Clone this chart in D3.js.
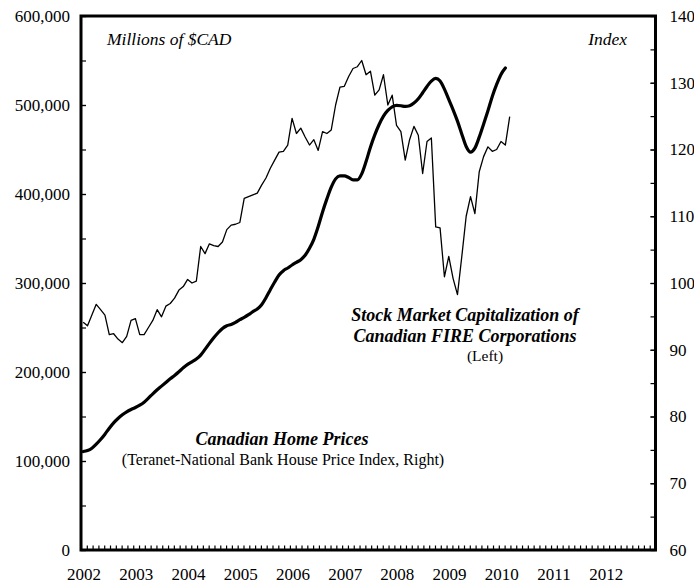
<!DOCTYPE html>
<html><head><meta charset="utf-8">
<script src="https://cdn.jsdelivr.net/npm/d3@7"></script>
<style>
body{margin:0;background:#fff}
svg{display:block}
text{font-family:"Liberation Serif","Times New Roman",serif;fill:#000}
</style>
</head><body>
<svg id="c" width="694" height="584"></svg>
<script>
// ---- data ----
const startYear = 2002; // monthly series starting January 2002
const yearLabels = [2002,2003,2004,2005,2006,2007,2008,2009,2010,2011,2012];
const leftTickValues = [0,100000,200000,300000,400000,500000,600000];
const rightTickValues = [60,70,80,90,100,110,120,130,140];
// Stock market capitalization of Canadian FIRE corporations, millions of CAD (left axis)
const stockCap = [
256000,252000,264000,276000,270000,264000,242000,243000,237000,233000,240000,258000,
260000,242000,242000,250000,258000,270000,262000,274000,277000,283000,292000,296000,
304000,300000,302000,341000,333000,344000,342000,341000,346000,360000,365000,366000,
368000,395000,397000,399000,401000,410000,418000,429000,438000,447000,448000,455000,
485000,468000,474000,464000,455000,461000,449000,470000,468000,472000,500000,520000,
521000,532000,541000,543000,550000,534000,538000,511000,517000,534000,500000,511000,
477000,470000,438000,461000,476000,466000,423000,459000,463000,363000,362000,307000,
330000,305000,287000,330000,375000,397000,378000,425000,442000,453000,448000,450000,
459000,455000,487000
];
// Teranet-National Bank House Price Index (right axis)
const homePrice = [
74.75,74.9,75.25,75.85,76.55,77.35,78.25,79.05,79.7,80.25,80.7,81.05,
81.35,81.7,82.15,82.75,83.4,84.0,84.55,85.1,85.65,86.15,86.7,87.3,
87.8,88.2,88.6,89.2,90.05,90.95,91.8,92.55,93.2,93.6,93.8,94.1,
94.5,94.85,95.25,95.7,96.1,96.75,97.8,99.0,100.15,101.2,101.85,102.25,
102.7,103.1,103.5,104.15,105.2,106.55,108.45,110.65,112.6,114.35,115.6,116.05,
116.05,115.8,115.45,115.45,116.35,118.2,120.35,122.2,123.75,125.0,125.85,126.4,
126.6,126.55,126.45,126.55,126.95,127.6,128.5,129.45,130.25,130.65,130.25,129.05,
127.5,125.95,124.25,122.3,120.45,119.6,120.2,121.85,123.8,125.8,127.95,129.75,
131.25,132.2
];

// ---- layout ----
const L = 81, R = 655.5, T = 16, B = 550;
const svg = d3.select("#c");
const x = d3.scaleLinear().domain([startYear, startYear + 11]).range([L, R]);
const yL = d3.scaleLinear().domain([0, 600000]).range([B, T]);
const yR = d3.scaleLinear().domain([60, 140]).range([B, T]);
const monthX = i => x(startYear + (i + 0.5) / 12);

function styleAxis(g){
  g.select(".domain").remove();
  g.attr("font-family", null).attr("font-size", null);
  g.selectAll("line").attr("stroke", "#000").attr("stroke-width", 1.2);
  g.selectAll("text").style("font-size", "17px");
}

// left axis (major + minor)
svg.append("g").attr("transform", `translate(${L},0)`)
  .call(d3.axisLeft(yL).tickValues(d3.range(0, 600001, 50000)).tickSize(-5).tickFormat(""))
  .call(styleAxis);
svg.append("g").attr("transform", `translate(${L},0)`)
  .call(d3.axisLeft(yL).tickValues(leftTickValues).tickSize(-5).tickPadding(11).tickFormat(d3.format(",")))
  .call(styleAxis);

// right axis
svg.append("g").attr("transform", `translate(${R},0)`)
  .call(d3.axisRight(yR).tickValues(d3.range(60, 141, 5)).tickSize(-5).tickFormat(""))
  .call(styleAxis);
svg.append("g").attr("transform", `translate(${R},0)`)
  .call(d3.axisRight(yR).tickValues(rightTickValues).tickSize(-5).tickPadding(14))
  .call(styleAxis);

// bottom axis
svg.append("g").attr("transform", `translate(0,${B})`)
  .call(d3.axisBottom(x).tickValues(d3.range(0, 100).map(i => startYear + i / 9)).tickSize(-4.5).tickFormat(""))
  .call(styleAxis);
svg.append("g").selectAll("text").data(yearLabels).join("text")
  .attr("x", d => x(d) + 3).attr("y", 580)
  .attr("text-anchor", "middle").style("font-size", "17px").text(d => d);

// lines
svg.append("path").datum(stockCap)
  .attr("fill", "none").attr("stroke", "#000").attr("stroke-width", 1.3).attr("stroke-linejoin", "round")
  .attr("d", d3.line().x((d, i) => monthX(i)).y(d => yL(d)));
svg.append("path").datum(homePrice)
  .attr("fill", "none").attr("stroke", "#000").attr("stroke-width", 3.2).attr("stroke-linejoin", "round").attr("stroke-linecap", "round")
  .attr("d", d3.line().curve(d3.curveMonotoneX).x((d, i) => monthX(i)).y(d => yR(d)));

// frame
svg.append("rect").attr("x", L).attr("y", T).attr("width", R - L).attr("height", B - T)
  .attr("fill", "none").attr("stroke", "#000").attr("stroke-width", 3);

// unit headers
svg.append("text").attr("x", 107).attr("y", 45).style("font-size", "17.5px").style("font-style", "italic").text("Millions of $CAD");
svg.append("text").attr("x", 627).attr("y", 45).attr("text-anchor", "end").style("font-size", "17.5px").style("font-style", "italic").text("Index");

// annotations
const bi = s => s.style("font-size", "18px").style("font-style", "italic").style("font-weight", "bold");
bi(svg.append("text").attr("x", 465).attr("y", 321).attr("text-anchor", "middle").text("Stock Market Capitalization of"));
bi(svg.append("text").attr("x", 465).attr("y", 342).attr("text-anchor", "middle").text("Canadian FIRE Corporations"));
svg.append("text").attr("x", 485).attr("y", 361).attr("text-anchor", "middle").style("font-size", "15.5px").text("(Left)");
bi(svg.append("text").attr("x", 282).attr("y", 445).attr("text-anchor", "middle").text("Canadian Home Prices"));
svg.append("text").attr("x", 283).attr("y", 465).attr("text-anchor", "middle").style("font-size", "16px").text("(Teranet-National Bank House Price Index, Right)");
</script>
</body></html>
